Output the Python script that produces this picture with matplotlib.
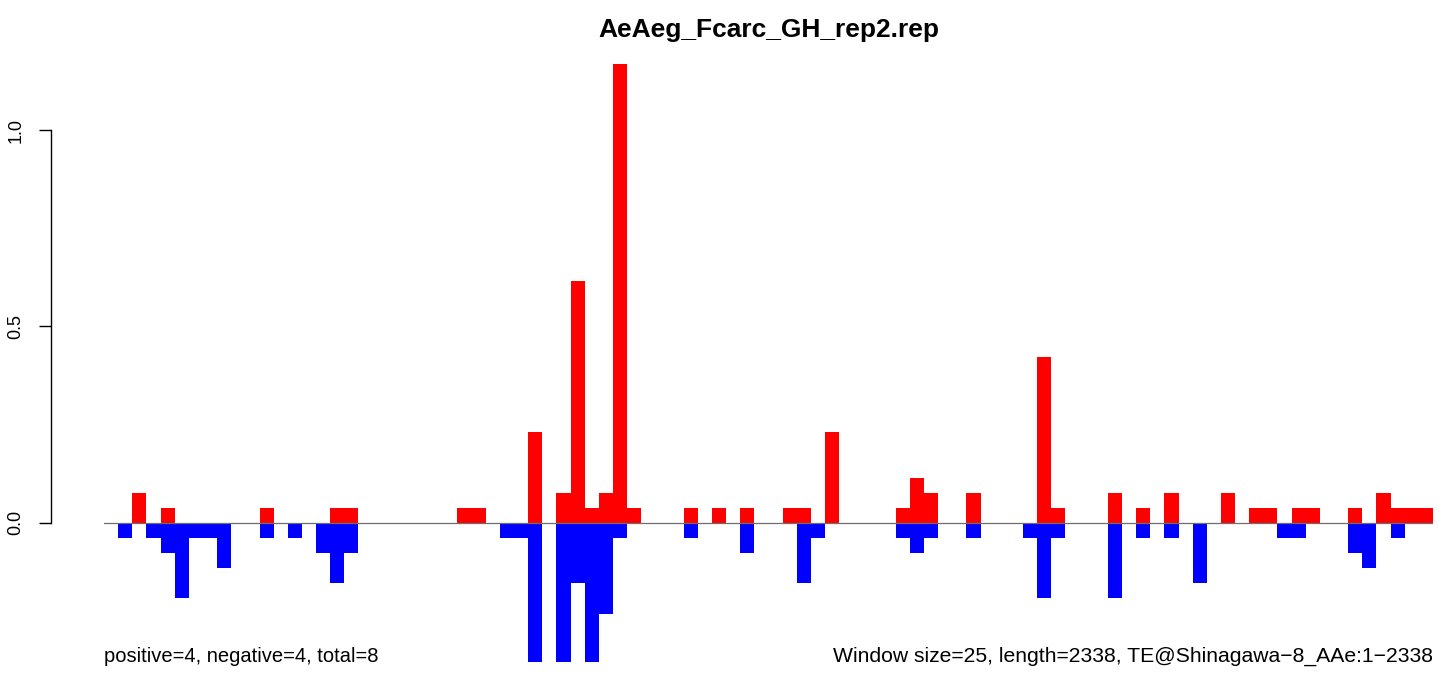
#!/usr/bin/env python3
"""Strand-split coverage bars for one TE (R-style barplot look)."""
import matplotlib

matplotlib.use("Agg")
import matplotlib.pyplot as plt
import numpy as np

TITLE = "AeAeg_Fcarc_GH_rep2.rep"
LEFT_NOTE = "positive=4, negative=4, total=8"
RIGHT_NOTE = "Window size=25, length=2338, TE@Shinagawa\u22128_AAe:1\u22122338"

N_BINS = 94
# bin index -> value
pos_bins = [2, 4, 11, 16, 17, 25, 26, 30, 32, 33, 34, 35, 36, 37, 41, 43, 45, 48, 49, 51,
            56, 57, 58, 61, 66, 67, 71, 73, 75, 79, 81, 82, 84, 85, 88, 90, 91, 92, 93]
pos_vals = [0.077, 0.038, 0.038, 0.038, 0.038, 0.038, 0.038, 0.231, 0.077, 0.615, 0.038, 0.077,
            1.168, 0.038, 0.038, 0.038, 0.038, 0.038, 0.038, 0.231,
            0.038, 0.115, 0.077, 0.077, 0.423, 0.038, 0.077, 0.038, 0.077, 0.077, 0.038, 0.038,
            0.038, 0.038, 0.038, 0.077, 0.038, 0.038, 0.038]
neg_bins = [1, 3, 4, 5, 6, 7, 8, 11, 13, 15, 16, 17, 28, 29, 30, 32, 33, 34, 35, 36, 41, 45,
            49, 50, 56, 57, 58, 61, 65, 66, 67, 71, 73, 75, 77, 83, 84, 88, 89, 91]
neg_vals = [0.038, 0.038, 0.077, 0.192, 0.038, 0.038, 0.115, 0.038, 0.038, 0.077, 0.154, 0.077,
            0.038, 0.038, 0.354, 0.354, 0.154, 0.354, 0.231, 0.038, 0.038, 0.077,
            0.154, 0.038, 0.038, 0.077, 0.038, 0.038, 0.038, 0.192, 0.038, 0.192, 0.038, 0.038,
            0.154, 0.038, 0.038, 0.077, 0.115, 0.038]

plt.rcParams.update({"font.family": ["Liberation Sans", "DejaVu Sans"], "font.size": 12})

W, H = 1439, 673
fig = plt.figure(figsize=(W / 100, H / 100), dpi=100)
x0, x1 = 104, 1433
y_top, y_bot = 64, 662
ax = fig.add_axes([x0 / W, (H - y_bot) / H, (x1 - x0) / W, (y_bot - y_top) / H])

ax.bar(pos_bins, pos_vals, width=1.0, align="edge", color="#ff0000", linewidth=0)
ax.bar(neg_bins, -np.asarray(neg_vals), width=1.0, align="edge", color="#0000ff", linewidth=0)
ax.axhline(0, color="#6e6e6e", linewidth=0.9, zorder=5)

ax.set_xlim(0, N_BINS)
ax.set_ylim(-0.354, 1.168)

for s in ("top", "right", "bottom"):
    ax.spines[s].set_visible(False)
ax.spines["left"].set_position(("outward", (x0 - 51) * 0.72))
ax.spines["left"].set_bounds(0, 1.0)
ax.spines["left"].set_linewidth(1.0)
ax.set_xticks([])
ax.set_yticks([0.0, 0.5, 1.0])
ax.set_yticklabels(["0.0", "0.5", "1.0"], rotation=90, va="center")
ax.tick_params(axis="y", length=9, width=1.0, pad=10, labelsize=13)

fig.text((x0 + x1) / 2 / W, 1 - 30 / H, TITLE, ha="center", va="center",
         fontsize=19, fontweight="bold")
fig.text(x0 / W, 1 - 656 / H, LEFT_NOTE, ha="left", va="center", fontsize=14.5)
fig.text(x1 / W, 1 - 656 / H, RIGHT_NOTE, ha="right", va="center", fontsize=15.2)

fig.savefig("out.png", dpi=100)
